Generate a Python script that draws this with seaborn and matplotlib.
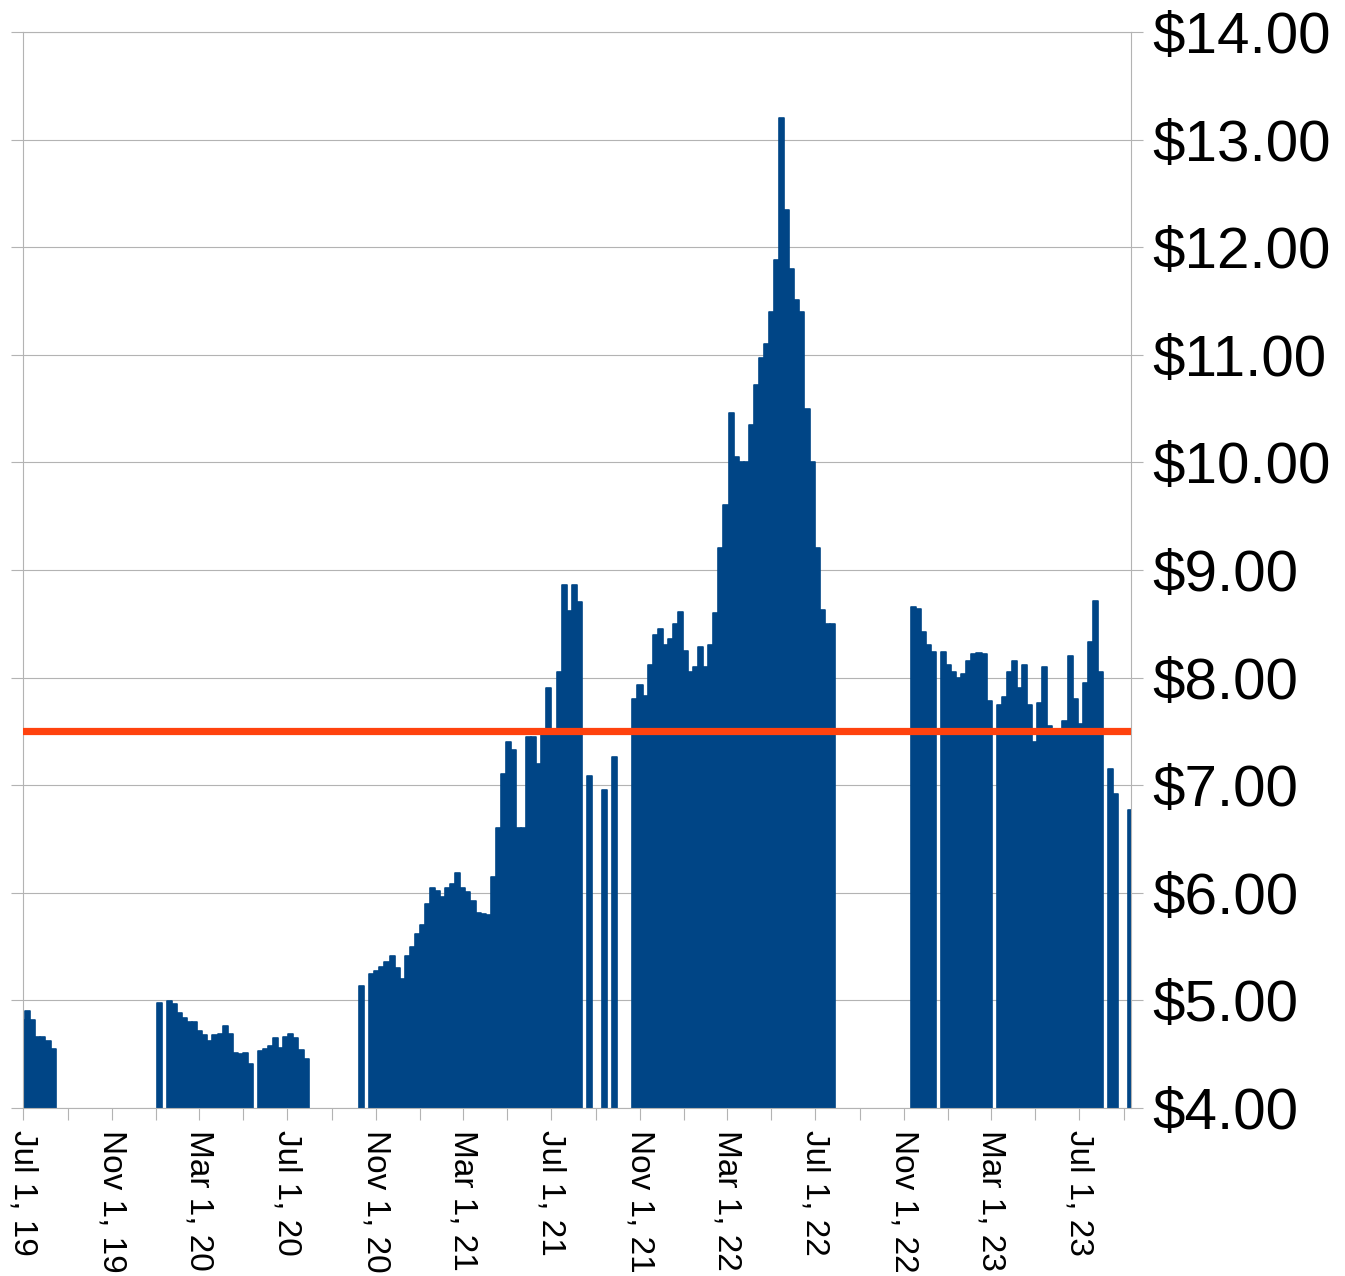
import matplotlib
matplotlib.use("Agg")
import matplotlib.pyplot as plt
import matplotlib.dates as mdates
import matplotlib.ticker as mticker
import numpy as np
import pandas as pd
import seaborn as sns

# weekly average price, one value per week (None = no data that week)
start_2019 = "2019-07-01"
prices_2019 = [4.82, 4.90, 4.82, 4.66, 4.66, 4.62, 4.55]

start_2020 = "2020-01-06"
prices_2020 = [4.98, None, 4.99, 4.97, 4.88, 4.84, 4.80, 4.80, 4.72, 4.68,
               4.62, 4.68, 4.69, 4.76, 4.69, 4.51, 4.50, 4.51, 4.41, None,
               4.53, 4.55, 4.58, 4.65, 4.56, 4.66, 4.69, 4.65, 4.54, 4.46]

start_2021 = "2020-10-12"
prices_2021 = [5.13, None, 5.25, 5.27, 5.31, 5.36, 5.41, 5.30, 5.20, 5.41,
               5.50, 5.62, 5.70, 5.90, 6.04, 6.02, 5.96, 6.04, 6.08, 6.18,
               6.04, 6.01, 5.92, 5.81, 5.80, 5.79, 6.15, 6.60, 7.10, 7.40,
               7.33, 6.60, 6.60, 7.45, 7.45, 7.20, 7.50, 7.90, 7.50, 8.05,
               8.86, 8.62, 8.86, 8.70, None, 7.09, None, None, 6.96, None,
               7.26, None, None, None, 7.80, 7.93, 7.83, 8.12, 8.40, 8.45,
               8.30, 8.36, 8.50, 8.61, 8.25, 8.05, 8.10, 8.28, 8.10, 8.30,
               8.60, 9.20, 9.60, 10.46, 10.05, 10.00, 10.00, 10.35, 10.72, 10.97,
               11.10, 11.40, 11.88, 13.20, 12.35, 11.80, 11.51, 11.40, 10.50, 10.00,
               9.20, 8.63, 8.50, 8.50]

start_2023 = "2022-11-14"
prices_2023 = [8.66, 8.64, 8.42, 8.30, 8.24, None, 8.24, 8.12, 8.05, 8.00,
               8.03, 8.15, 8.22, 8.23, 8.22, 7.78, None, 7.75, 7.82, 8.05,
               8.15, 7.90, 8.12, 7.75, 7.40, 7.76, 8.10, 7.55, 7.50, 7.50,
               7.60, 8.20, 7.80, 7.57, 7.95, 8.33, 8.71, 8.05, None, 7.15,
               6.92, None, None, 6.77]

target_price = 7.50
axis_start = "2019-07-01"
axis_end = "2023-09-11 06:00"

BLUE = "#004586"
RED = "#ff420e"
GRID = "#b3b3b3"


def build_frame():
    parts = []
    for start, vals in [(start_2019, prices_2019), (start_2020, prices_2020),
                        (start_2021, prices_2021), (start_2023, prices_2023)]:
        dates = pd.date_range(start, periods=len(vals), freq="7D")
        parts.append(pd.DataFrame({"date": dates, "price": vals}))
    df = pd.concat(parts, ignore_index=True).dropna()
    df["price"] = df["price"].astype(float)
    df["x"] = mdates.date2num(df["date"])
    return df


df = build_frame()

sns.set_theme(style="white")
plt.rcParams["font.family"] = ["Liberation Sans", "DejaVu Sans"]

fig = plt.figure(figsize=(13.45, 12.76), dpi=100)
ax = fig.add_axes([0.01688, 0.13166, 0.8240, 0.84326])

sns.barplot(data=df, x="x", y="price", native_scale=True, width=1.0,
            color=BLUE, saturation=1, errorbar=None,
            edgecolor=BLUE, linewidth=1.2, ax=ax)
for p in ax.patches:
    p.set_joinstyle("round")

ax.axhline(target_price, color=RED, lw=5.2, solid_capstyle="round", zorder=5)

ax.set_xlim(mdates.date2num(pd.Timestamp(axis_start)),
            mdates.date2num(pd.Timestamp(axis_end)))
ax.set_ylim(4, 14)
ax.set_xlabel("")
ax.set_ylabel("")

ax.yaxis.set_major_locator(mticker.MultipleLocator(1))
ax.yaxis.set_major_formatter(mticker.FuncFormatter(lambda v, _: f"${v:.2f}"))
ax.yaxis.grid(True, color=GRID, lw=0.8)
ax.set_axisbelow(True)

ax.xaxis.set_major_locator(mdates.MonthLocator(bymonth=[3, 7, 11]))
ax.xaxis.set_minor_locator(mdates.MonthLocator(bymonth=[1, 5, 9]))


def fmt_date(v, _):
    d = mdates.num2date(v)
    return f"{d:%b} {d.day}, {d:%y}"


ax.xaxis.set_major_formatter(mticker.FuncFormatter(fmt_date))

ax.tick_params(axis="y", which="both", left=True, right=True,
               labelleft=False, labelright=True, length=8.6, width=0.8,
               color=GRID, labelsize=42, pad=6.5, labelcolor="black")
ax.tick_params(axis="x", which="both", bottom=True, length=8.6, width=0.8,
               color=GRID, labelsize=24, pad=7, labelcolor="black")
for lbl in ax.get_xticklabels():
    lbl.set_rotation(-90)
    lbl.set_va("top")
    lbl.set_ha("center")

for side in ["left", "right", "top", "bottom"]:
    ax.spines[side].set_visible(True)
    ax.spines[side].set_color(GRID)
    ax.spines[side].set_linewidth(0.8)

fig.savefig("out.png", dpi=100)
